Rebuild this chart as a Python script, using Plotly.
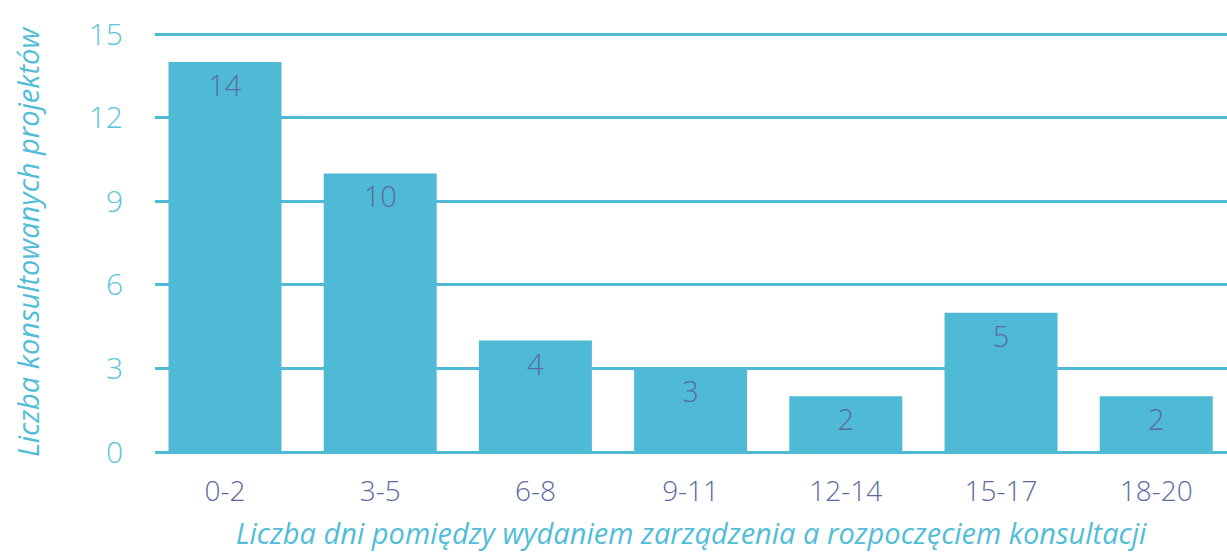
import plotly.graph_objects as go

categories = ["0-2", "3-5", "6-8", "9-11", "12-14", "15-17", "18-20"]
values = [14, 10, 4, 3, 2, 5, 2]
y_ticks = [0, 3, 6, 9, 12, 15]

BAR = "#4fbad6"
LIGHT = "#5cc3dc"
TITLE = "#52bdd8"
DARK = "#5a6b9e"
FONT = "Open Sans"

fig = go.Figure()
fig.add_trace(go.Bar(
    x=categories, y=values,
    marker=dict(color=BAR, line=dict(width=0)),
    text=[str(v) for v in values],
    textposition="inside",
    insidetextanchor="end",
    textfont=dict(family=FONT, size=29, color=DARK, weight=300),
    cliponaxis=False,
    hoverinfo="skip",
))

fig.update_layout(
    width=1227, height=555,
    margin=dict(l=155, r=0, t=33, b=103),
    paper_bgcolor="white", plot_bgcolor="white",
    bargap=0.272,
    showlegend=False,
    font=dict(family=FONT),
)
fig.update_xaxes(
    type="category", range=[-0.451, 6.456],
    showgrid=False, showline=False, zeroline=False,
    ticks="", ticklabelstandoff=20,
    tickfont=dict(family=FONT, size=28, color=DARK, weight=300),
    title=dict(text="Liczba dni pomiędzy wydaniem zarządzenia a rozpoczęciem konsultacji",
               font=dict(family=FONT, size=29, color=TITLE, style="italic", weight=400),
               standoff=15),
)
fig.update_yaxes(
    range=[0, 15.04], tickvals=y_ticks,
    showgrid=True, gridcolor=BAR, gridwidth=2.5,
    zeroline=True, zerolinecolor=BAR, zerolinewidth=2.5,
    showline=False, ticks="", ticklabelstandoff=31,
    tickfont=dict(family=FONT, size=30, color=LIGHT, weight=300),
    title=dict(text="Liczba konsultowanych projektów",
               font=dict(family=FONT, size=29, color=TITLE, style="italic", weight=400),
               standoff=40),
)

fig.write_html("out.html", config={"displayModeBar": False},
               post_script="document.body.style.margin='0';")
